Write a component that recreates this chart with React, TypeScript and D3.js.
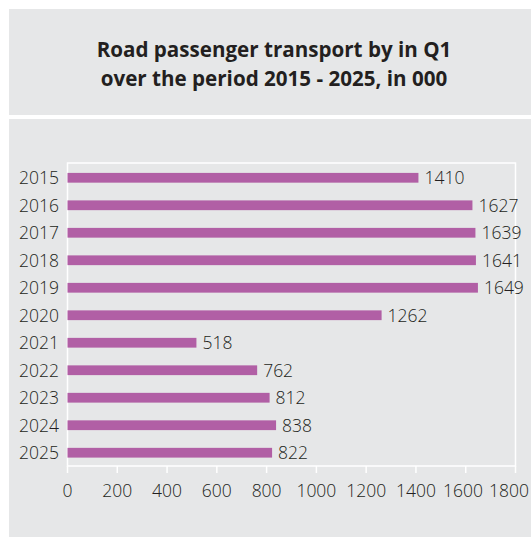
import React from "react";
import * as d3 from "d3";

const years = ["2015","2016","2017","2018","2019","2020","2021","2022","2023","2024","2025"];
const values = [1410,1627,1639,1641,1649,1262,518,762,812,838,822];
const xTicks = [0,200,400,600,800,1000,1200,1400,1600,1800];
const titleLines = ["Road passenger transport by in Q1","over the period 2015 - 2025, in 000"];

export default function App() {
  const W = 531, H = 537;
  const left = 67.5, right = 515.5, top = 163, bottom = 466;
  const x = d3.scaleLinear().domain([0, 1800]).range([left, right]);
  const y = d3.scaleBand().domain(years).range([top, bottom + 1.5]).paddingInner(0.645).paddingOuter(0.36);
  const font = "'Open Sans', sans-serif";
  const fs = 17.5;
  const digitW = 0.572 * fs;
  // tick label layout: centered on ticks, last one kept inside the frame, overlaps pushed left
  const centers = xTicks.map(t => x(t));
  const widths = xTicks.map(t => String(t).length * digitW);
  const maxRight = 529;
  const gap = 6;
  for (let i = centers.length - 1; i >= 0; i--) {
    let r = centers[i] + widths[i] / 2;
    const limit = i === centers.length - 1 ? maxRight : centers[i + 1] - widths[i + 1] / 2 - gap;
    if (r > limit) centers[i] -= r - limit;
  }
  const textColor = "#231f20";
  return (
    <svg width={W} height={H} style={{ position: "absolute", left: 0, top: 0 }}>
      <rect x={9} y={9} width={W - 9} height={106} fill="#e6e7e8" />
      <rect x={9} y={119} width={W - 9} height={H - 119} fill="#e6e7e8" />
      {titleLines.map((t, i) => (
        <text key={i} x={274} y={57 + i * 29} textAnchor="middle" fontFamily={font} fontWeight={700} fontSize={20.6} fill={textColor}>{t}</text>
      ))}
      <path d={`M${left},${top}H${right}V${bottom}H${left}Z`} fill="none" stroke="#fff" strokeWidth={1.5} />
      {xTicks.map((t, i) => (
        <g key={t}>
          <line x1={x(t)} x2={x(t)} y1={bottom} y2={bottom + 7} stroke="#fff" strokeWidth={1.5} />
          <text x={centers[i]} y={497} textAnchor="middle" fontFamily={font} fontWeight={300} fontSize={fs} fill={textColor}>{t}</text>
        </g>
      ))}
      {years.map((yr, i) => {
        const yy = y(yr)!;
        const bw = y.bandwidth();
        return (
          <g key={yr}>
            <rect x={x(0)} y={yy} width={x(values[i]) - x(0)} height={bw} fill="#b15fa5" />
            <text x={59} y={yy + bw / 2 + 6.5} textAnchor="end" fontFamily={font} fontWeight={300} fontSize={fs} fill={textColor}>{yr}</text>
            <text x={x(values[i]) + 6} y={yy + bw / 2 + 6.5} textAnchor="start" fontFamily={font} fontWeight={300} fontSize={fs} fill={textColor}>{values[i]}</text>
          </g>
        );
      })}
    </svg>
  );
}
